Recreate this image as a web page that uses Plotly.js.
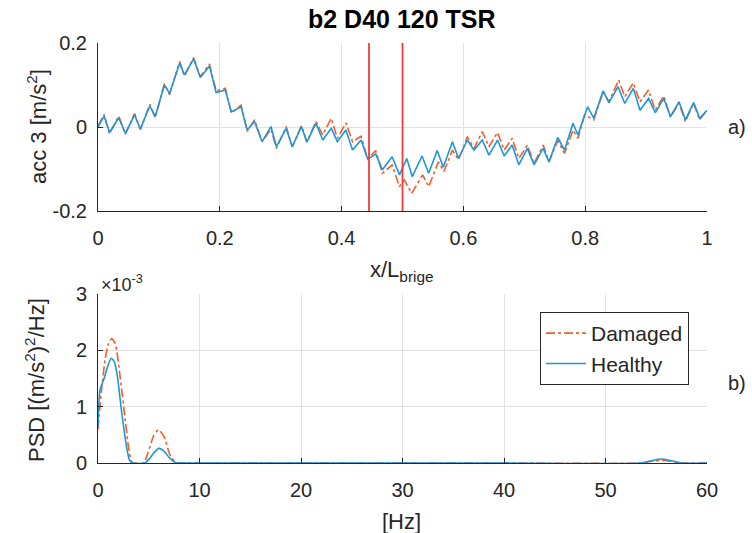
<!DOCTYPE html>
<html>
<head>
<meta charset="utf-8">
<script src="https://cdn.plot.ly/plotly-3.0.1.min.js"></script>
<style>html,body{margin:0;padding:0;background:#fff;}#chart{width:752px;height:533px;}</style>
</head>
<body>
<div id="chart"></div>
<script>
// ---- top panel: acceleration along the bridge (local extrema) ----
const xHealthy = [0.000,0.010,0.019,0.034,0.045,0.060,0.0695,0.085,0.094,0.109,0.1175,0.134,0.142,0.157,0.168,0.183,0.194,0.209,0.219,0.235,0.245,0.257,0.2695,0.284,0.293,0.309,0.319,0.334,0.343,0.358,0.369,0.383,0.393,0.407,0.418,0.432,0.443,0.456,0.467,0.483,0.495,0.507,0.516,0.532,0.543,0.557,0.567,0.582,0.592,0.6065,0.6175,0.631,0.642,0.656,0.667,0.680,0.691,0.705,0.716,0.731,0.7405,0.755,0.766,0.780,0.788,0.804,0.814,0.8295,0.839,0.854,0.865,0.879,0.890,0.904,0.915,0.929,0.940,0.954,0.9645,0.978,0.988,1.000];
const accHealthy = [0.000,0.026,-0.013,0.022,-0.015,0.029,-0.005,0.050,0.025,0.100,0.080,0.152,0.124,0.162,0.118,0.145,0.082,0.088,0.036,0.048,-0.007,0.013,-0.035,0.001,-0.047,-0.003,-0.047,0.001,-0.036,0.009,-0.031,-0.003,-0.035,-0.007,-0.055,-0.031,-0.077,-0.064,-0.102,-0.071,-0.114,-0.075,-0.118,-0.069,-0.110,-0.056,-0.096,-0.035,-0.075,-0.031,-0.055,-0.031,-0.067,-0.031,-0.069,-0.043,-0.090,-0.051,-0.090,-0.051,-0.083,-0.025,-0.055,0.009,-0.019,0.048,0.021,0.086,0.058,0.096,0.056,0.092,0.040,0.068,0.034,0.068,0.025,0.060,0.017,0.058,0.021,0.040];
const xDamaged = [0.000,0.010,0.019,0.034,0.045,0.060,0.0695,0.085,0.094,0.109,0.1175,0.134,0.142,0.157,0.168,0.183,0.194,0.209,0.219,0.235,0.245,0.257,0.2695,0.284,0.293,0.309,0.319,0.334,0.343,0.358,0.369,0.383,0.393,0.407,0.418,0.432,0.443,0.456,0.467,0.483,0.495,0.503,0.515,0.533,0.543,0.559,0.568,0.582,0.592,0.6065,0.6175,0.631,0.642,0.656,0.667,0.680,0.691,0.705,0.716,0.731,0.7405,0.755,0.766,0.780,0.788,0.799,0.814,0.8295,0.839,0.855,0.865,0.879,0.890,0.904,0.915,0.929,0.940,0.954,0.9645,0.978,0.988,1.000];
const accDamaged = [0.002,0.030,-0.016,0.026,-0.017,0.032,-0.006,0.054,0.022,0.103,0.077,0.156,0.121,0.165,0.120,0.150,0.086,0.092,0.033,0.052,-0.010,0.017,-0.035,-0.005,-0.051,0.001,-0.047,0.003,-0.035,0.013,-0.019,0.021,-0.027,0.010,-0.035,-0.022,-0.077,-0.056,-0.110,-0.090,-0.142,-0.126,-0.158,-0.114,-0.142,-0.083,-0.106,-0.055,-0.078,-0.023,-0.051,-0.011,-0.047,-0.013,-0.055,-0.027,-0.075,-0.043,-0.087,-0.043,-0.083,-0.032,-0.063,-0.007,-0.027,0.029,0.017,0.084,0.060,0.112,0.072,0.105,0.060,0.088,0.040,0.074,0.023,0.057,0.013,0.057,0.017,0.040];
const damageLines = [0.445, 0.500];

// ---- bottom panel: PSD (values in units of 1e-3 (m/s^2)^2/Hz) ----
const freqHealthy = [0,0.2,0.6,1.0,1.3,1.6,1.9,2.3,2.8,3.1,3.4,4.6,5.0,5.5,6.0,6.5,7.0,7.6,8.5,20,40,53.5,54.5,55.5,56.5,57.5,60];
const psdHealthy  = [0.65,1.30,1.50,1.74,1.86,1.80,1.55,0.95,0.30,0.05,0.00,0.00,0.06,0.18,0.26,0.21,0.10,0.01,0.00,0.00,0.00,0.00,0.04,0.07,0.04,0.00,0.00];
const freqDamaged = [0,0.35,0.7,1.0,1.35,1.7,2.2,2.7,3.0,3.3,3.6,4.5,4.9,5.45,5.95,6.5,7.1,7.7,8.5,20,40,53.5,54.5,55.5,56.5,57.5,60];
const psdDamaged  = [0.60,1.30,1.83,2.10,2.21,2.12,1.50,0.74,0.29,0.02,0.00,0.00,0.17,0.47,0.59,0.47,0.14,0.00,0.00,0.00,0.00,0.00,0.03,0.05,0.03,0.00,0.00];

const topXTicks = [0,0.2,0.4,0.6,0.8,1];
const topYTicks = [-0.2,0,0.2];
const botXTicks = [0,10,20,30,40,50,60];
const botYTicks = [0,1,2,3];

const C_DAM = 'rgb(248,92,40)';
const C_HEA = 'rgb(30,150,215)';
const FONT = 'Liberation Sans, Arial, sans-serif';
const TXT = '#262626';

const traces = [
  {x: xDamaged, y: accDamaged, xaxis:'x', yaxis:'y', mode:'lines', name:'Damaged', showlegend:false,
   line:{color:C_DAM, width:1.6, dash:'dashdot'}},
  {x: xHealthy, y: accHealthy, xaxis:'x', yaxis:'y', mode:'lines', name:'Healthy', showlegend:false,
   line:{color:C_HEA, width:1.6}},
  {x: freqDamaged, y: psdDamaged, xaxis:'x2', yaxis:'y2', mode:'lines', name:'Damaged',
   line:{color:C_DAM, width:1.6, dash:'dashdot', shape:'spline', smoothing:0.6}},
  {x: freqHealthy, y: psdHealthy, xaxis:'x2', yaxis:'y2', mode:'lines', name:'Healthy',
   line:{color:C_HEA, width:1.6, shape:'spline', smoothing:0.6}}
];

const axisCommon = {
  showline:true, linecolor:TXT, linewidth:1, mirror:false,
  ticks:'inside', ticklen:5, tickcolor:TXT, tickwidth:1,
  showgrid:true, gridcolor:'#e2e2e2', gridwidth:1, zeroline:false,
  tickfont:{family:FONT, size:20, color:TXT}
};

const shapes = damageLines.map(v => ({
  type:'line', xref:'x', yref:'y domain', x0:v, x1:v, y0:0, y1:1,
  line:{color:'rgb(250,55,60)', width:1.8}
}));

const layout = {
  width:752, height:533,
  margin:{l:0, r:0, t:0, b:0},
  paper_bgcolor:'#fff', plot_bgcolor:'#fff',
  showlegend:true,
  legend:{x:689/752, y:1-312/533, xanchor:'right', yanchor:'top',
          bgcolor:'#fff', bordercolor:TXT, borderwidth:1,
          font:{family:FONT, size:21, color:TXT}, tracegroupgap:0, itemwidth:40},
  xaxis: Object.assign({}, axisCommon, {domain:[98/752, 707/752], anchor:'y', range:[0,1],
          tickvals:topXTicks, ticktext:topXTicks.map(String), ticklabelstandoff:9}),
  yaxis: Object.assign({}, axisCommon, {domain:[1-211/533, 1-43/533], anchor:'x', range:[-0.2,0.2],
          tickvals:topYTicks, ticktext:['-0.2','0','0.2'], ticklabelstandoff:6}),
  xaxis2: Object.assign({}, axisCommon, {domain:[98/752, 707/752], anchor:'y2', range:[0,60],
          tickvals:botXTicks, ticktext:botXTicks.map(String), ticklabelstandoff:9}),
  yaxis2: Object.assign({}, axisCommon, {domain:[1-463/533, 1-294/533], anchor:'x2', range:[0,3],
          tickvals:botYTicks, ticktext:botYTicks.map(String), ticklabelstandoff:6}),
  shapes: shapes,
  annotations: [
    {text:'<b>b2 D40 120 TSR</b>', xref:'paper', yref:'paper', x:402/752, y:1-19/533,
     showarrow:false, font:{family:FONT, size:25, color:'#000'}, xanchor:'center', yanchor:'middle'},
    {text:'x/L<sub>brige</sub>', xref:'paper', yref:'paper', x:402/752, y:1-271/533,
     showarrow:false, font:{family:FONT, size:22, color:TXT}, xanchor:'center', yanchor:'middle'},
    {text:'acc 3 [m/s<sup>2</sup>]', xref:'paper', yref:'paper', x:37/752, y:1-127/533, textangle:-90,
     showarrow:false, font:{family:FONT, size:22, color:TXT}, xanchor:'center', yanchor:'middle'},
    {text:'PSD [(m/s<sup>2</sup>)<sup>2</sup>/Hz]', xref:'paper', yref:'paper', x:35/752, y:1-380/533, textangle:-90,
     showarrow:false, font:{family:FONT, size:22, color:TXT}, xanchor:'center', yanchor:'middle'},
    {text:'[Hz]', xref:'paper', yref:'paper', x:402/752, y:1-521/533,
     showarrow:false, font:{family:FONT, size:22, color:TXT}, xanchor:'center', yanchor:'middle'},
    {text:'\u00d710<sup>-3</sup>', xref:'paper', yref:'paper', x:99/752, y:1-283/533,
     showarrow:false, font:{family:FONT, size:18, color:TXT}, xanchor:'left', yanchor:'middle'},
    {text:'a)', xref:'paper', yref:'paper', x:737/752, y:1-127/533,
     showarrow:false, font:{family:FONT, size:20, color:TXT}, xanchor:'center', yanchor:'middle'},
    {text:'b)', xref:'paper', yref:'paper', x:737/752, y:1-383/533,
     showarrow:false, font:{family:FONT, size:20, color:TXT}, xanchor:'center', yanchor:'middle'}
  ]
};

Plotly.newPlot('chart', traces, layout, {displayModeBar:false, staticPlot:true});
</script>
</body>
</html>
